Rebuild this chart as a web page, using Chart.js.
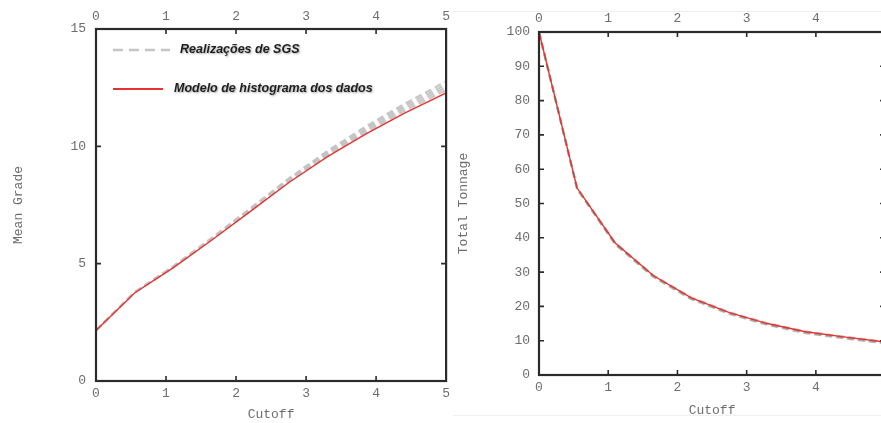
<!DOCTYPE html>
<html><head><meta charset="utf-8">
<script src="https://cdn.jsdelivr.net/npm/chart.js@4/dist/chart.umd.min.js"></script>
<style>
html,body{margin:0;padding:0;background:#fff;overflow:hidden;width:881px;height:423px;position:relative;}
#frame{position:absolute;left:453px;top:11px;width:440px;height:403px;border-top:1px solid #efefef;border-bottom:1px solid #efefef;}
#c1{position:absolute;left:0;top:0;}
#c2{position:absolute;left:453px;top:0;}
</style></head>
<body>
<div id="frame"></div>
<canvas id="c1" width="455" height="423"></canvas>
<canvas id="c2" width="442" height="423"></canvas>
<script>
// ---- data ----
const cutoffs = [0, 0.55, 1.1, 1.65, 2.2, 2.75, 3.3, 3.85, 4.4, 5.0];
const xTickValues = [0, 1, 2, 3, 4, 5];
const gradeTickValues = [0, 5, 10, 15];
const tonnageTickValues = [0, 10, 20, 30, 40, 50, 60, 70, 80, 90, 100];

const gradeModel = [2.15, 3.75, 4.82, 6.00, 7.22, 8.45, 9.55, 10.52, 11.40, 12.28];
const gradeSGS1  = [2.15, 3.76, 4.84, 6.03, 7.26, 8.50, 9.62, 10.60, 11.50, 12.40];
const gradeSGS2  = [2.15, 3.77, 4.85, 6.05, 7.29, 8.54, 9.67, 10.68, 11.60, 12.52];
const gradeSGS3  = [2.16, 3.78, 4.87, 6.07, 7.32, 8.58, 9.73, 10.76, 11.70, 12.64];
const gradeSGS4  = [2.16, 3.78, 4.88, 6.09, 7.35, 8.62, 9.79, 10.84, 11.80, 12.76];

const tonnageModel = [100, 54.5, 38.5, 29.0, 22.5, 18.2, 15.0, 12.6, 11.1, 9.6];
const tonnageSGS1  = [100, 54.2, 38.1, 28.6, 22.1, 17.8, 14.6, 12.2, 10.7, 9.2];
const tonnageSGS2  = [100, 54.4, 38.3, 28.8, 22.3, 18.0, 14.8, 12.4, 10.9, 9.4];
const tonnageSGS3  = [100, 54.6, 38.6, 29.1, 22.6, 18.3, 15.1, 12.7, 11.2, 9.7];

const legendLabels = ['Realizações de SGS', 'Modelo de histograma dos dados'];
const xTitle = 'Cutoff';
const gradeTitle = 'Mean Grade';
const tonnageTitle = 'Total Tonnage';

// ---- styling ----
const RED = '#e8322f';
const GRAY = 'rgba(195,195,195,0.95)';
const GRAY2 = 'rgba(140,140,140,0.55)';
const MONO = "'Liberation Mono', 'DejaVu Sans Mono', monospace";
const TXT = '#6e6e6e';

function pts(ys) { return cutoffs.map((x, i) => ({x: x, y: ys[i]})); }
function redSet(ys) { return {data: pts(ys), borderColor: RED, borderWidth: 1.4, pointRadius: 0, tension: 0, fill: false}; }
function graySet(ys, color) { return {data: pts(ys), borderColor: color, borderWidth: 2.2, borderDash: [7, 4], pointRadius: 0, tension: 0, fill: false}; }

const framePlugin = {
  id: 'frame',
  afterDatasetsDraw(chart) {
    const {ctx, chartArea: a, scales} = chart;
    ctx.save();
    ctx.strokeStyle = '#2b2b2b';
    ctx.lineWidth = 2.2;
    ctx.strokeRect(a.left, a.top, a.right - a.left, a.bottom - a.top);
    ctx.lineWidth = 1.6;
    const L = 5;
    scales.x.ticks.forEach(t => {
      const p = scales.x.getPixelForValue(t.value);
      if (p <= a.left + 1 || p >= a.right - 1) return;
      ctx.beginPath();
      ctx.moveTo(p, a.bottom); ctx.lineTo(p, a.bottom - L);
      ctx.moveTo(p, a.top); ctx.lineTo(p, a.top + L);
      ctx.stroke();
    });
    scales.y.ticks.forEach(t => {
      const p = scales.y.getPixelForValue(t.value);
      if (p <= a.top + 1 || p >= a.bottom - 1) return;
      ctx.beginPath();
      ctx.moveTo(a.left, p); ctx.lineTo(a.left + L, p);
      ctx.moveTo(a.right, p); ctx.lineTo(a.right - L, p);
      ctx.stroke();
    });
    ctx.restore();
  }
};

const insideLegend = {
  id: 'insideLegend',
  afterDraw(chart) {
    const {ctx, chartArea: a} = chart;
    ctx.save();
    let y1 = a.top + 21, y2 = a.top + 60;
    ctx.strokeStyle = GRAY; ctx.lineWidth = 2.5; ctx.setLineDash([10, 6]);
    ctx.beginPath(); ctx.moveTo(a.left + 17, y1); ctx.lineTo(a.left + 74, y1); ctx.stroke();
    ctx.setLineDash([]);
    ctx.strokeStyle = RED; ctx.lineWidth = 2;
    ctx.beginPath(); ctx.moveTo(a.left + 17, y2); ctx.lineTo(a.left + 67, y2); ctx.stroke();
    ctx.font = "italic bold 12.5px 'Liberation Sans', Arial, sans-serif";
    ctx.fillStyle = '#1e1e1e';
    ctx.textBaseline = 'middle';
    ctx.shadowColor = 'rgba(0,0,0,0.35)'; ctx.shadowBlur = 2; ctx.shadowOffsetX = 1; ctx.shadowOffsetY = 1;
    ctx.fillText(legendLabels[0], a.left + 84, y1);
    ctx.fillText(legendLabels[1], a.left + 78, y2);
    ctx.restore();
  }
};

function fixedTicks(vals) { return scale => { scale.ticks = vals.map(v => ({value: v})); }; }

function makeOptions(cfg) {
  const tickFont = {family: MONO, size: 13};
  return {
    responsive: false,
    animation: false,
    layout: {padding: {left: 0, right: cfg.padRight, top: 0, bottom: 0}},
    plugins: {legend: {display: false}, tooltip: {enabled: false}},
    scales: {
      x: {
        type: 'linear', position: 'bottom', min: 0, max: 5,
        afterBuildTicks: fixedTicks(xTickValues),
        afterFit: s => { s.height = cfg.bottomH; },
        grid: {display: false, drawTicks: false}, border: {display: false},
        ticks: {color: TXT, font: tickFont, padding: cfg.xPad, maxRotation: 0, autoSkip: false},
        title: {display: true, text: xTitle, color: TXT, font: tickFont, padding: {top: 0, bottom: cfg.xTitlePad}}
      },
      x2: {
        type: 'linear', position: 'top', min: 0, max: 5,
        afterBuildTicks: fixedTicks(xTickValues),
        afterFit: s => { s.height = cfg.topH; },
        grid: {display: false, drawTicks: false}, border: {display: false},
        ticks: {color: TXT, font: tickFont, padding: cfg.x2Pad, maxRotation: 0, autoSkip: false}
      },
      y: {
        type: 'linear', position: 'left', min: 0, max: cfg.yMax,
        afterBuildTicks: fixedTicks(cfg.yTicks),
        afterFit: s => { s.width = cfg.leftW; },
        grid: {display: false, drawTicks: false}, border: {display: false},
        ticks: {color: TXT, font: tickFont, padding: cfg.yPad, autoSkip: false},
        title: {display: true, text: cfg.yTitle, color: TXT, font: tickFont, padding: {top: cfg.yTitlePad, bottom: 0}}
      }
    }
  };
}

new Chart(document.getElementById('c1'), {
  type: 'line',
  data: {datasets: [redSet(gradeModel), graySet(gradeSGS1, GRAY), graySet(gradeSGS2, GRAY), graySet(gradeSGS3, GRAY), graySet(gradeSGS4, GRAY)]},
  options: makeOptions({padRight: 7, bottomH: 42, topH: 29, leftW: 96, yMax: 15, yTicks: gradeTickValues,
    yTitle: gradeTitle, xPad: 5, x2Pad: 5, yPad: 10, xTitlePad: 1, yTitlePad: 11}),
  plugins: [framePlugin, insideLegend]
});

new Chart(document.getElementById('c2'), {
  type: 'line',
  data: {datasets: [redSet(tonnageModel), graySet(tonnageSGS1, GRAY2), graySet(tonnageSGS2, GRAY2), graySet(tonnageSGS3, GRAY2)]},
  options: makeOptions({padRight: 7, bottomH: 48, topH: 32, leftW: 86, yMax: 100, yTicks: tonnageTickValues,
    yTitle: tonnageTitle, xPad: 5, x2Pad: 6, yPad: 9, xTitlePad: 5, yTitlePad: 3}),
  plugins: [framePlugin]
});
</script>
</body></html>
